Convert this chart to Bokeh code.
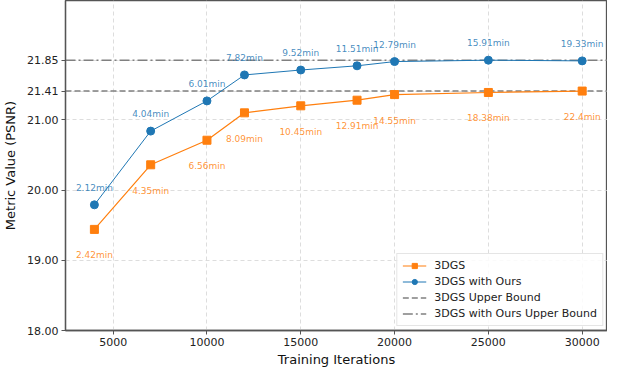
from bokeh.plotting import figure
from bokeh.models import SingleIntervalTicker, FixedTicker, Range1d, ColumnDataSource, Legend, LegendItem, NumeralTickFormatter, Title
from bokeh.core.properties import value
from bokeh.embed import file_html
from bokeh.resources import INLINE

iterations = [4000, 7000, 10000, 12000, 15000, 18000, 20000, 25000, 30000]
psnr_3dgs = [19.44, 20.36, 20.71, 21.10, 21.20, 21.28, 21.36, 21.39, 21.41]
psnr_ours = [19.79, 20.84, 21.27, 21.64, 21.71, 21.77, 21.83, 21.85, 21.84]
time_3dgs = ["2.42min", "4.35min", "6.56min", "8.09min", "10.45min", "12.91min", "14.55min", "18.38min", "22.4min"]
time_ours = ["2.12min", "4.04min", "6.01min", "7.82min", "9.52min", "11.51min", "12.79min", "15.91min", "19.33min"]
bound_3dgs = 21.41
bound_ours = 21.85
y_ticks = [18.0, 19.0, 20.0, 21.0, bound_3dgs, bound_ours]
x_lim = (2460, 31350)
y_lim = (18.0, 22.70)

ORANGE = "#ff7f0e"
BLUE = "#1f77b4"
GRAY = "#808080"
FONT = "DejaVu Sans"

p = figure(width=607, height=369, output_backend="svg", toolbar_location=None,
           x_range=Range1d(*x_lim), y_range=Range1d(*y_lim),
           min_border_left=57, min_border_right=0, min_border_top=0, min_border_bottom=0)

p.background_fill_color = "white"
p.outline_line_color = "#555555"
p.outline_line_width = 1.3

for ax in (p.xaxis[0], p.yaxis[0]):
    ax.axis_line_color = "#555555"
    ax.axis_line_width = 1.3
    ax.major_tick_line_color = "#555555"
    ax.major_tick_out = 4
    ax.major_tick_in = 0
    ax.minor_tick_line_color = None
    ax.major_label_text_font = FONT
    ax.major_label_text_font_size = "11px"
    ax.major_label_text_color = "#222222"
    ax.major_label_standoff = 3
    ax.axis_label_text_font = FONT
    ax.axis_label_text_font_size = "13px"
    ax.axis_label_text_font_style = "normal"
    ax.axis_label_text_color = "#111111"

p.xaxis.ticker = SingleIntervalTicker(interval=5000)
p.yaxis.ticker = FixedTicker(ticks=y_ticks)
p.yaxis.formatter = NumeralTickFormatter(format="0.00")
p.yaxis.axis_label = "Metric Value (PSNR)"
p.yaxis.axis_label_standoff = 6

# x-axis title as a compact title panel below the axis
p.add_layout(Title(text="Training Iterations", align="center", text_font=FONT, text_font_size="13px",
                   text_font_style="normal", text_color="#111111", standoff=4, offset=0,
                   vertical_align="middle"), "below")

for g in (p.xgrid[0], p.ygrid[0]):
    g.grid_line_color = "#d4d4d4"
    g.grid_line_dash = "4 3"
    g.grid_line_width = 0.8

# upper bound lines across the full x range
b1 = p.line(x=list(x_lim), y=[bound_3dgs, bound_3dgs], line_color=GRAY, line_width=1.5, line_dash="6 3")
b2 = p.line(x=list(x_lim), y=[bound_ours, bound_ours], line_color=GRAY, line_width=1.5, line_dash="10 3 2 3")

src = ColumnDataSource(dict(x=iterations, a=psnr_3dgs, b=psnr_ours, ta=time_3dgs, tb=time_ours))

l1 = p.line("x", "a", source=src, line_color=ORANGE, line_width=1.2)
m1 = p.scatter("x", "a", source=src, marker="square", size=8, fill_color=ORANGE, line_color=ORANGE)
l2 = p.line("x", "b", source=src, line_color=BLUE, line_width=1.0)
m2 = p.scatter("x", "b", source=src, marker="circle", size=8, fill_color=BLUE, line_color=BLUE)

p.text("x", "b", text="tb", source=src, text_font=value(FONT), text_font_size="9px",
       text_color=BLUE, text_alpha=0.85, text_align="center", text_baseline="middle", y_offset=-17)
p.text("x", "a", text="ta", source=src, text_font=value(FONT), text_font_size="9px",
       text_color=ORANGE, text_alpha=0.85, text_align="center", text_baseline="middle", y_offset=26)

legend = Legend(items=[
    LegendItem(label="3DGS", renderers=[l1, m1]),
    LegendItem(label="3DGS with Ours", renderers=[l2, m2]),
    LegendItem(label="3DGS Upper Bound", renderers=[b1]),
    LegendItem(label="3DGS with Ours Upper Bound", renderers=[b2]),
], location="bottom_right")
legend.label_text_font = FONT
legend.label_text_font_size = "11px"
legend.label_text_color = "#222222"
legend.label_height = 13
legend.glyph_height = 13
legend.glyph_width = 24
legend.label_standoff = 8
legend.spacing = 3
legend.padding = 5
legend.margin = 4
legend.border_line_color = "#cccccc"
legend.border_line_width = 1
legend.background_fill_alpha = 0.85
p.add_layout(legend, "center")

open("out.html", "w").write(file_html(p, INLINE))
